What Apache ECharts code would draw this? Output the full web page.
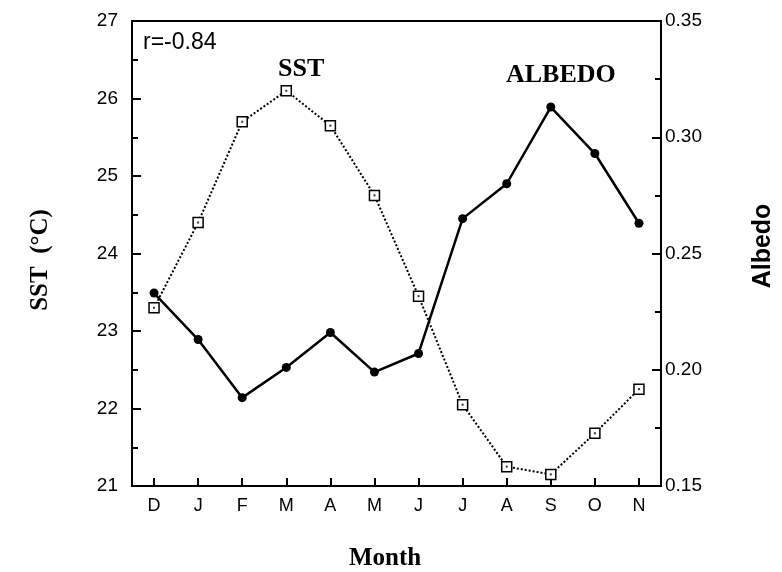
<!DOCTYPE html>
<html><head><meta charset="utf-8">
<script src="https://cdn.jsdelivr.net/npm/echarts@6/dist/echarts.min.js"></script>
<style>html,body{margin:0;padding:0;background:#fff}#c{width:782px;height:572px}</style>
</head><body><div id="c"></div>
<script>
const months = ['D','J','F','M','A','M','J','J','A','S','O','N'];
const sst = [23.3, 24.4, 25.7, 26.1, 25.65, 24.75, 23.45, 22.05, 21.25, 21.15, 21.68, 22.25];
const albedo = [0.233, 0.213, 0.188, 0.201, 0.216, 0.199, 0.207, 0.265, 0.280, 0.313, 0.293, 0.263];
const corrText = 'r=-0.84';
const xTitle = 'Month';
const yLeftTitle = 'SST  (°C)';
const yRightTitle = 'Albedo';

const chart = echarts.init(document.getElementById('c'));
const sans = 'Liberation Sans';
chart.setOption({
  animation: false,
  backgroundColor: '#fff',
  grid: {left: 132, right: 121, top: 21, bottom: 86, show: true, borderColor: '#000', borderWidth: 2,
         outerBoundsMode: 'none', containLabel: false},
  xAxis: {
    type: 'category', data: months, boundaryGap: true,
    axisLine: {show: true, lineStyle: {color: '#000', width: 2}},
    axisTick: {show: true, inside: true, alignWithLabel: true, length: 8, lineStyle: {color: '#000', width: 2}},
    axisLabel: {fontFamily: sans, fontSize: 18, color: '#000', margin: 11}
  },
  yAxis: [{
    type: 'value', min: 21, max: 27, interval: 1, position: 'left',
    axisLine: {show: true, lineStyle: {color: '#000', width: 2}},
    axisTick: {show: true, inside: true, length: 9, lineStyle: {color: '#000', width: 2}},
    minorTick: {show: true, splitNumber: 2, length: 6, lineStyle: {color: '#000', width: 2}},
    splitLine: {show: false},
    axisLabel: {fontFamily: sans, fontSize: 19, color: '#000', margin: 14}
  }, {
    type: 'value', min: 0.15, max: 0.35, interval: 0.05, position: 'right',
    axisLine: {show: true, lineStyle: {color: '#000', width: 2}},
    axisTick: {show: true, inside: true, length: 9, lineStyle: {color: '#000', width: 2}},
    minorTick: {show: true, splitNumber: 2, length: 6, lineStyle: {color: '#000', width: 2}},
    splitLine: {show: false},
    axisLabel: {fontFamily: sans, fontSize: 19, color: '#000', margin: 4,
      formatter: v => v.toFixed(2)}
  }],
  series: [{
    name: 'SST', type: 'line', yAxisIndex: 0, data: sst,
    symbol: 'rect', symbolSize: 10,
    lineStyle: {color: '#000', width: 2, type: [2, 2]},
    itemStyle: {color: '#fff', borderColor: '#000', borderWidth: 1.5},
    z: 3
  }, {
    name: 'SSTdot', type: 'scatter', yAxisIndex: 0, data: sst,
    symbol: 'rect', symbolSize: 2, itemStyle: {color: '#000'}, z: 4, silent: true
  }, {
    name: 'ALBEDO', type: 'line', yAxisIndex: 1, data: albedo,
    symbol: 'circle', symbolSize: 9,
    lineStyle: {color: '#000', width: 2.5},
    itemStyle: {color: '#000'},
    z: 5
  }],
  graphic: [
    {type: 'text', left: 143, top: 31, style: {text: corrText, font: '23px "Liberation Sans"', fill: '#000'}},
    {type: 'text', left: 278, top: 56, style: {text: 'SST', font: 'bold 26px "Liberation Serif"', fill: '#000'}},
    {type: 'text', left: 506, top: 62, style: {text: 'ALBEDO', font: 'bold 26px "Liberation Serif"', fill: '#000'}},
    {type: 'text', x: 385, y: 559,
     style: {text: xTitle, font: 'bold 25px "Liberation Serif"', fill: '#000', align: 'center', verticalAlign: 'middle'}},
    {type: 'text', x: 41, y: 260, rotation: Math.PI / 2,
     style: {text: yLeftTitle, font: 'bold 25px "Liberation Serif"', fill: '#000', align: 'center', verticalAlign: 'middle'}},
    {type: 'text', x: 763, y: 246, rotation: Math.PI / 2,
     style: {text: yRightTitle, font: 'bold 25px "Liberation Sans"', fill: '#000', align: 'center', verticalAlign: 'middle'}}
  ]
});
</script></body></html>
